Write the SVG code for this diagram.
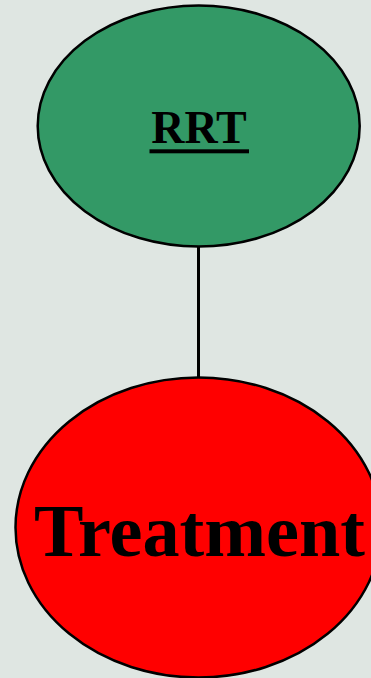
<svg xmlns="http://www.w3.org/2000/svg" width="371" height="678" viewBox="0 0 371 678">
<style>
.node{stroke:#000;stroke-width:2.5}
.lbl{font-family:"Liberation Serif","Times New Roman",serif;font-weight:bold;fill:#000;text-anchor:middle}
</style>
<rect x="0" y="0" width="371" height="678" fill="#dfe6e2"/>
<g id="connectors">
<line x1="198.5" y1="246" x2="198.5" y2="378" stroke="#000" stroke-width="3"/>
</g>
<g id="rrt">
<ellipse class="node" cx="198.7" cy="126" rx="161" ry="120.5" fill="#339966"/>
<text class="lbl" x="199" y="142.5" font-size="46">RRT</text>
<rect x="149.5" y="149.3" width="99.5" height="4" fill="#000"/>
</g>
<g id="treatment">
<ellipse class="node" cx="198.5" cy="527.5" rx="183" ry="150" fill="#ff0000"/>
<text class="lbl" x="199.5" y="555.5" font-size="75" textLength="331" lengthAdjust="spacingAndGlyphs">Treatment</text>
</g>
</svg>
